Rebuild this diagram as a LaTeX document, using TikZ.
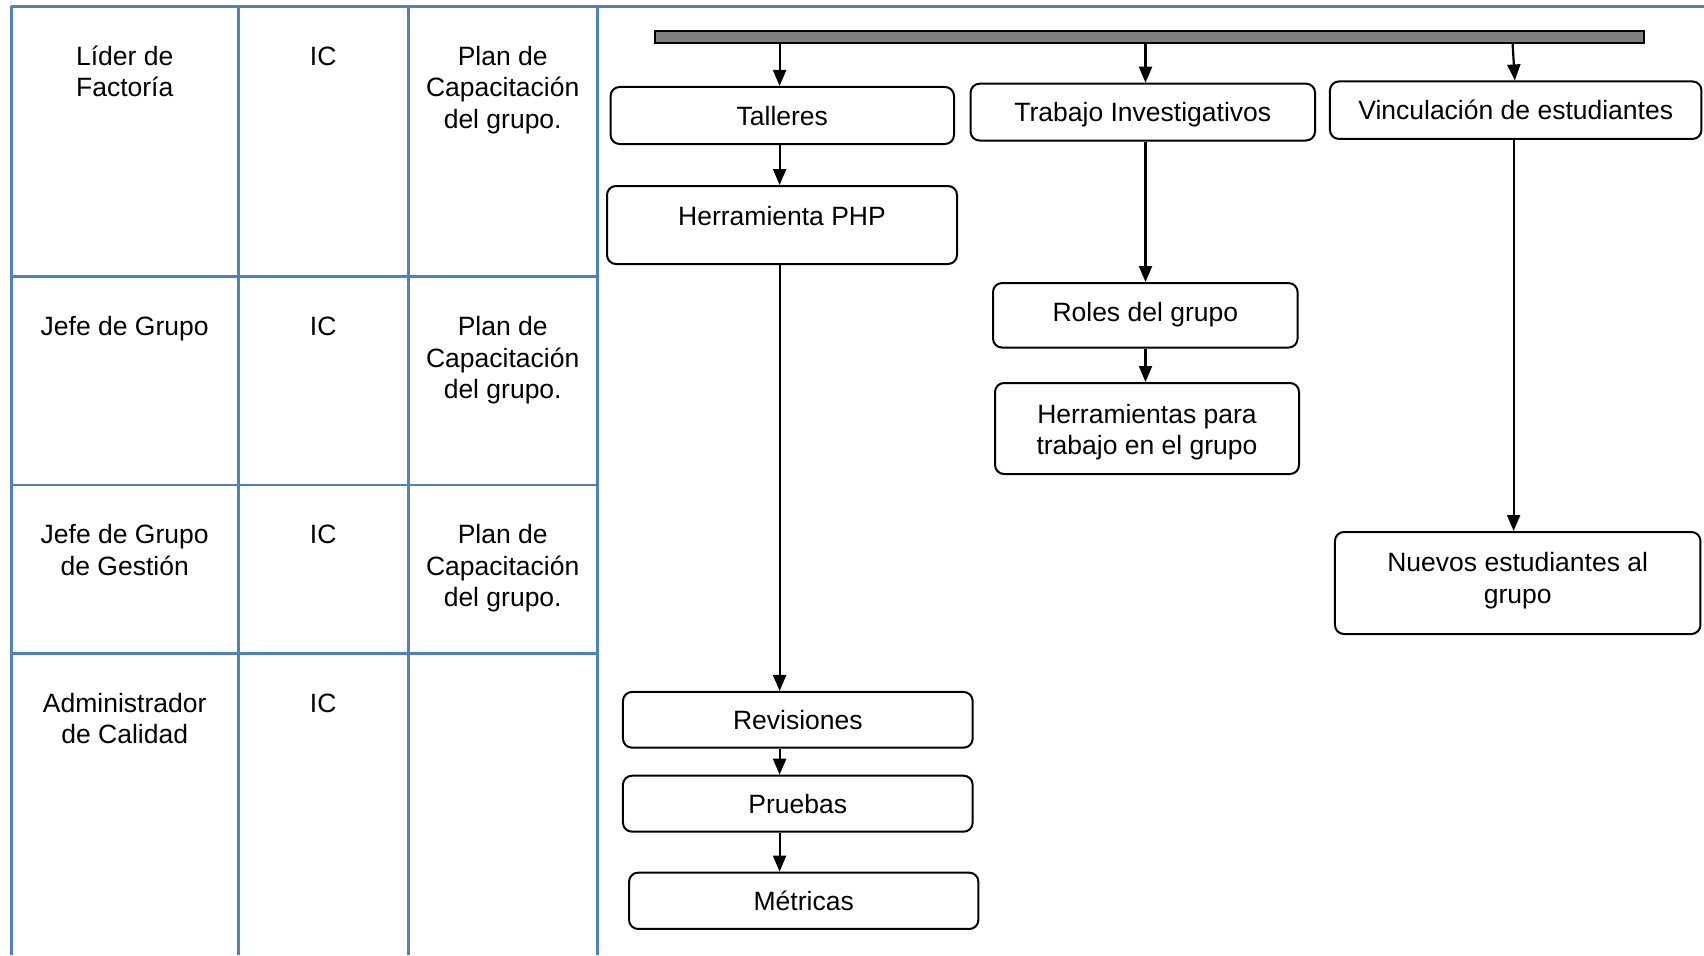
\documentclass[tikz,border=0pt]{standalone}
\usepackage{fontspec}
\setmainfont{Liberation Sans}
\usetikzlibrary{arrows.meta}
\definecolor{gridblue}{RGB}{79,129,189}
\definecolor{bargray}{RGB}{128,128,128}
% strut that fixes the height of a first text line
\newcommand{\firststrut}{\rule{0pt}{26pt}}
\begin{document}
\begin{tikzpicture}[x=1pt,y=-1pt,
  font=\fontsize{26.5}{31.5}\selectfont,
  gridline/.style={draw=gridblue, line width=2.8pt},
  cell/.style={anchor=north, align=center, inner sep=0pt},
  box/.style={draw=black, line width=2pt, rounded corners=9pt, inner sep=0pt, align=center},
  oneline/.style={text height=24pt, text depth=5pt},
  arr/.style={-{Triangle[length=16pt,width=13pt]}, line width=2.2pt}]
\useasboundingbox (0,0) rectangle (1704,955);

% ---- table of roles (text tops = baseline - 26) ----
\draw[gridline] (11.2,6.5) -- (1704,6.5);
\foreach \x in {11.2,238.2,408.3,597.2}
  \draw[gridline] (\x,6.5) -- (\x,955);
\foreach \y in {276.7,485,653.3}
  \draw[gridline] (11.2,\y) -- (597.2,\y);

\node[cell] (r1a) at (124.7,39)   {\firststrut Líder de\\Factoría};
\node[cell] (r1b) at (323.2,39)   {\firststrut IC};
\node[cell] (r1c) at (502.7,39)   {\firststrut Plan de\\Capacitación\\del grupo.};
\node[cell] (r2a) at (124.7,309.5) {\firststrut Jefe de Grupo};
\node[cell] (r2b) at (323.2,309.5) {\firststrut IC};
\node[cell] (r2c) at (502.7,309.5) {\firststrut Plan de\\Capacitación\\del grupo.};
\node[cell] (r3a) at (124.7,517.3) {\firststrut Jefe de Grupo\\de Gestión};
\node[cell] (r3b) at (323.2,517.3) {\firststrut IC};
\node[cell] (r3c) at (502.7,517.3) {\firststrut Plan de\\Capacitación\\del grupo.};
\node[cell] (r4a) at (124.7,685.8) {\firststrut Administrador\\de Calidad};
\node[cell] (r4b) at (323.2,685.8) {\firststrut IC};

% ---- training flow ----
\node[draw=black, fill=bargray, line width=2pt, inner sep=0pt,
      minimum width=989pt, minimum height=12pt] (bar) at (1149.5,37) {};

\node[box, oneline, minimum width=343.4pt, minimum height=57pt]   (tal)  at (782.3,115.5) {Talleres};
\node[box, oneline, minimum width=344.5pt, minimum height=56.8pt] (trab) at (1142.8,112.1) {Trabajo Investigativos};
\node[box, oneline, minimum width=371.5pt, minimum height=57.5pt] (vinc) at (1515.7,110.2) {Vinculación de estudiantes};

\node[box, text height=39pt, text depth=39pt, minimum width=350pt, minimum height=77pt] (php) at (782,225) {Herramienta PHP};
\node[box, text height=24pt, text depth=12pt, minimum width=304.6pt, minimum height=64.5pt] (roles) at (1145.3,315.3) {Roles del grupo};
\node[box, minimum width=304pt, minimum height=91pt] (herr) at (1147,428.5) {\rule{0pt}{26pt}Herramientas para\\trabajo en el grupo};
\node[box, minimum width=365.5pt, minimum height=102pt] (nuev) at (1517.7,583) {Nuevos estudiantes al\\grupo\rule[-10pt]{0pt}{10pt}};

\node[box, oneline, minimum width=349.7pt, minimum height=55.7pt] (rev) at (797.8,719.8) {Revisiones};
\node[box, oneline, minimum width=349.7pt, minimum height=56pt]   (prue) at (797.8,803.7) {Pruebas};
\node[box, oneline, minimum width=349.3pt, minimum height=56.3pt] (metr) at (803.7,900.8) {Métricas};

% vertical guides for the connectors
\coordinate (colA) at (779.6,0);
\coordinate (colB) at (1145.5,0);
\coordinate (colC) at (1512.6,0);
\coordinate (colD) at (1514.8,0);
\coordinate (colE) at (1513.6,0);

\draw[arr] (bar.south -| colA) -- (tal.north -| colA);
\draw[arr] (bar.south -| colB) -- (trab.north -| colB);
\draw[arr] (bar.south -| colC) -- (vinc.north -| colD);

\draw[arr] (tal.south -| colA) -- (php.north -| colA);
\draw[arr] (php.south -| colA) -- (rev.north -| colA);
\draw[arr] (rev.south -| colA) -- (prue.north -| colA);
\draw[arr] (prue.south -| colA) -- (metr.north -| colA);

\draw[arr] (trab.south -| colB) -- (roles.north -| colB);
\draw[arr] (roles.south -| colB) -- (herr.north -| colB);

\draw[arr] (vinc.south -| colE) -- (nuev.north -| colE);
\end{tikzpicture}
\end{document}
